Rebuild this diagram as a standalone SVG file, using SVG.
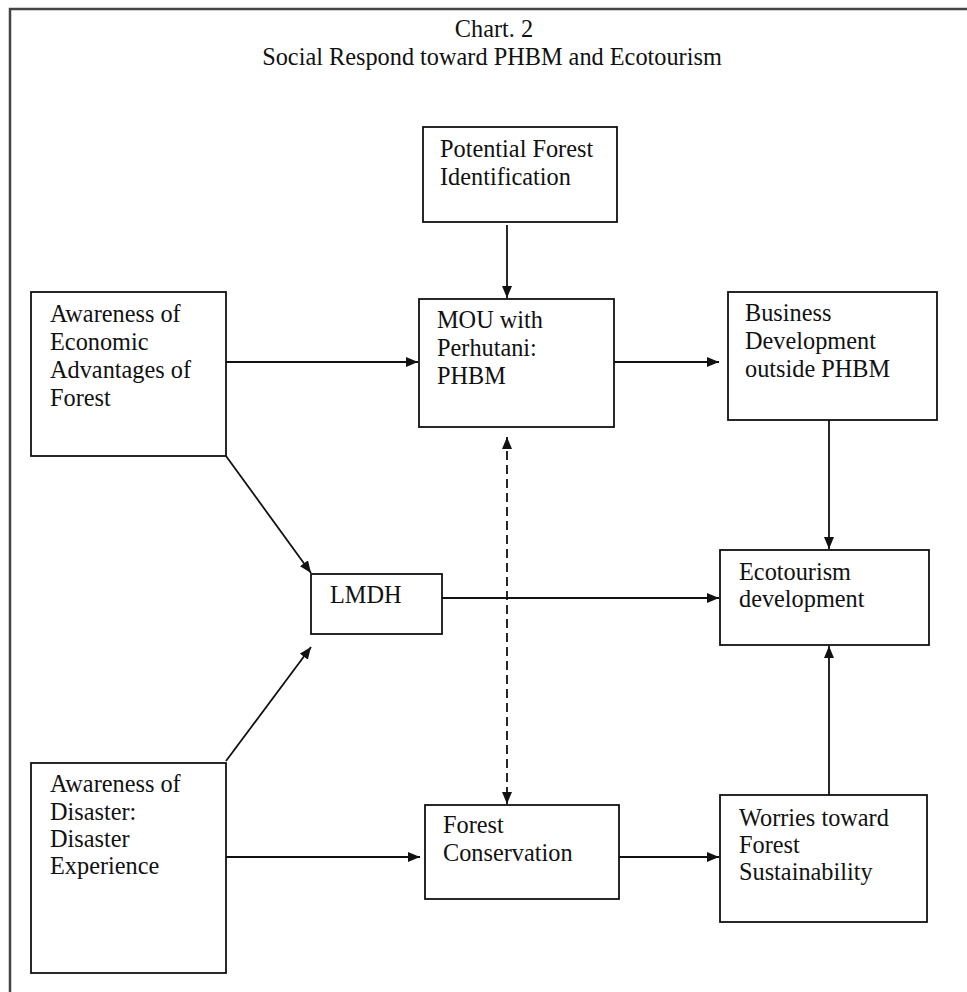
<svg xmlns="http://www.w3.org/2000/svg" width="967" height="992" viewBox="0 0 967 992">
<defs>
<style>
.box{fill:#fff;stroke:#111;stroke-width:1.8}
.t{font-family:"Liberation Serif","Times New Roman",serif;font-size:24.3px;fill:#111}
.c{stroke:#111;stroke-width:1.8;fill:none}
</style>
<marker id="ah" viewBox="0 0 12 10" refX="12" refY="5" markerWidth="12" markerHeight="10" markerUnits="userSpaceOnUse" orient="auto-start-reverse">
<path d="M0,0 L12,5 L0,10 Z" fill="#111"/>
</marker>
</defs>
<rect width="967" height="992" fill="#fff"/>
<path d="M10,992 V9 H967" fill="none" stroke="#444" stroke-width="2.5"/>
<g id="title">
<text class="t" x="494" y="37" text-anchor="middle">Chart. 2</text>
<text class="t" x="492" y="65" text-anchor="middle">Social Respond toward PHBM and Ecotourism</text>
</g>
<g id="connectors">
<line class="c" x1="507" y1="225" x2="507" y2="298" marker-end="url(#ah)"/>
<line class="c" x1="226" y1="362" x2="418" y2="362" marker-end="url(#ah)"/>
<line class="c" x1="614" y1="362" x2="719" y2="362" marker-end="url(#ah)"/>
<line class="c" x1="829" y1="420" x2="829" y2="549" marker-end="url(#ah)"/>
<line class="c" x1="226" y1="456" x2="311" y2="573" marker-end="url(#ah)"/>
<line class="c" x1="442" y1="598" x2="719" y2="598" marker-end="url(#ah)"/>
<line class="c" x1="226" y1="761" x2="311" y2="647" marker-end="url(#ah)"/>
<line class="c" x1="507" y1="437" x2="507" y2="804" stroke-dasharray="9,5" marker-start="url(#ah)" marker-end="url(#ah)"/>
<line class="c" x1="226" y1="857" x2="420" y2="857" marker-end="url(#ah)"/>
<line class="c" x1="614" y1="857" x2="719" y2="857" marker-end="url(#ah)"/>
<line class="c" x1="829" y1="795" x2="829" y2="646" marker-end="url(#ah)"/>
</g>
<g id="potential">
<rect class="box" x="423" y="127" width="194" height="95"/>
<text class="t" x="440" y="157">Potential Forest</text>
<text class="t" x="440" y="185">Identification</text>
</g>
<g id="economic">
<rect class="box" x="31" y="292" width="195" height="164"/>
<text class="t" x="50" y="322">Awareness of</text>
<text class="t" x="50" y="350">Economic</text>
<text class="t" x="50" y="378">Advantages of</text>
<text class="t" x="50" y="406">Forest</text>
</g>
<g id="mou">
<rect class="box" x="419" y="299" width="195" height="128"/>
<text class="t" x="437" y="328">MOU with</text>
<text class="t" x="437" y="356">Perhutani:</text>
<text class="t" x="437" y="384">PHBM</text>
</g>
<g id="business">
<rect class="box" x="728" y="292" width="209" height="128"/>
<text class="t" x="745" y="321">Business</text>
<text class="t" x="745" y="349">Development</text>
<text class="t" x="745" y="377">outside PHBM</text>
</g>
<g id="lmdh">
<rect class="box" x="311" y="574" width="131" height="60"/>
<text class="t" x="330" y="603">LMDH</text>
</g>
<g id="ecotourism">
<rect class="box" x="720" y="550" width="209" height="95"/>
<text class="t" x="739" y="580">Ecotourism</text>
<text class="t" x="739" y="607">development</text>
</g>
<g id="disaster">
<rect class="box" x="31" y="763" width="195" height="210"/>
<text class="t" x="50" y="792">Awareness of</text>
<text class="t" x="50" y="820">Disaster:</text>
<text class="t" x="50" y="847">Disaster</text>
<text class="t" x="50" y="874">Experience</text>
</g>
<g id="conservation">
<rect class="box" x="425" y="805" width="194" height="94"/>
<text class="t" x="443" y="833">Forest</text>
<text class="t" x="443" y="861">Conservation</text>
</g>
<g id="worries">
<rect class="box" x="720" y="795" width="207" height="127"/>
<text class="t" x="739" y="826">Worries toward</text>
<text class="t" x="739" y="853">Forest</text>
<text class="t" x="739" y="880">Sustainability</text>
</g>
</svg>
